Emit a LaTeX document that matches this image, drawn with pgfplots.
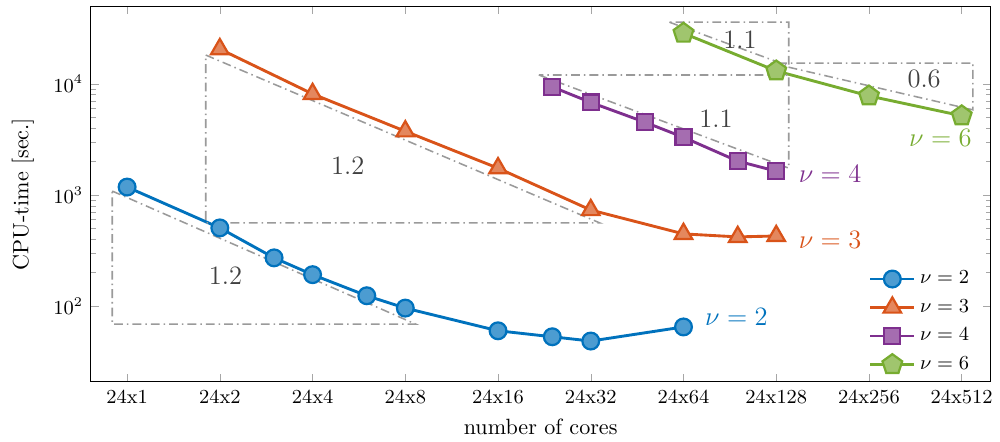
\documentclass[border=0pt]{standalone}
\usepackage{pgfplots}
\pgfplotsset{compat=1.18}
\usetikzlibrary{plotmarks}

\definecolor{cblue}{HTML}{0072BD}
\definecolor{corange}{HTML}{D95319}
\definecolor{cpurple}{HTML}{7E2F8E}
\definecolor{cgreen}{HTML}{77AC30}
\definecolor{slopegray}{HTML}{9A9A9A}
\definecolor{labelgray}{HTML}{404040}

\begin{document}
\begin{tikzpicture}
\begin{axis}[
  scale only axis,
  width=407pt, height=170pt,
  ymode=log,
  xmin=-0.39, xmax=9.31,
  ymin=20.8, ymax=50100,
  xtick={0,1,2,3,4,5,6,7,8,9},
  xticklabels={24x1,24x2,24x4,24x8,24x16,24x32,24x64,24x128,24x256,24x512},
  ytick={100,1000,10000},
  xlabel={number of cores},
  ylabel={CPU-time [sec.]},
  ylabel shift=2pt,
  tick label style={font=\small},
  tick style={color=gray!70},
  major tick length=3.5pt,
  minor tick length=2.2pt,
  tick align=inside,
  axis line style={black},
  every axis plot/.append style={line width=1.3pt},
  legend style={at={(0.989,0.0)}, anchor=south east,
    draw=none, fill=none, font=\small, row sep=1.6pt},
  legend cell align=left,
  legend image code/.code={
    \draw[mark repeat=2, mark phase=2] plot coordinates {(0cm,0cm) (0.35cm,0cm) (0.7cm,0cm)};},
  clip=false,
]
% measured CPU times; x = log2(cores/24)
\addplot[color=cblue, mark=*, mark size=3.8pt,
  mark options={fill=cblue!70!white, line width=1pt}]
  coordinates {(0,1180) (1,506) (1.585,272) (2,192) (2.585,124) (3,96)
               (4,60) (4.585,53) (5,48.5) (6,65)};
\addlegendentry{$\nu=2$}
\addplot[color=corange, mark=triangle*, mark size=4.6pt,
  mark options={fill=corange!70!white, line width=1pt}]
  coordinates {(1,20600) (2,8130) (3,3750) (4,1745) (5,733) (6,447)
               (6.585,420) (7,428)};
\addlegendentry{$\nu=3$}
\addplot[color=cpurple, mark=square*, mark size=3.6pt,
  mark options={fill=cpurple!70!white, line width=1pt}]
  coordinates {(4.585,9400) (5,6820) (5.585,4520) (6,3310) (6.585,2020) (7,1640)};
\addlegendentry{$\nu=4$}
\addplot[color=cgreen, mark=pentagon*, mark size=4.7pt,
  mark options={fill=cgreen!70!white, line width=1pt}]
  coordinates {(6,28600) (7,13100) (8,7800) (9,5170)};
\addlegendentry{$\nu=6$}

% slope triangles
\pgfplotsset{slope/.style={color=slopegray, line width=0.7pt,
  dash pattern=on 4pt off 1.8pt on 0.7pt off 1.8pt, mark=none, forget plot}}
\addplot[slope] coordinates {(-0.16,1086) (3.11,69) (-0.16,69) (-0.16,1086)};
\addplot[slope] coordinates {(0.848,18200) (5.097,561) (0.848,561) (0.848,18200)};
\addplot[slope] coordinates {(4.44,12040) (7.135,1746) (7.135,12040) (4.44,12040)};
\addplot[slope] coordinates {(5.848,35960) (7.135,14500) (7.135,35960) (5.848,35960)};
\addplot[slope] coordinates {(6.94,15420) (9.12,5850) (9.12,15420) (6.94,15420)};

% slope values
\node[labelgray, font=\large] at (axis cs:1.06,188) {$1.2$};
\node[labelgray, font=\large] at (axis cs:2.38,1820) {$1.2$};
\node[labelgray, font=\large] at (axis cs:6.35,4810) {$1.1$};
\node[labelgray, font=\large] at (axis cs:6.61,24840) {$1.1$};
\node[labelgray, font=\large] at (axis cs:8.595,11090) {$0.6$};

% curve names
\node[cblue, font=\large, anchor=west] at (axis cs:6.15,79.6) {$\nu=2$};
\node[corange, font=\large, anchor=west] at (axis cs:7.16,394) {$\nu=3$};
\node[cpurple, font=\large, anchor=west] at (axis cs:7.16,1543) {$\nu=4$};
\node[cgreen, font=\large, anchor=west] at (axis cs:8.35,3243) {$\nu=6$};
\end{axis}
% a little white margin above and to the left
\path (current bounding box.north west) ++(-2pt,2.6pt);
\end{tikzpicture}
\end{document}
